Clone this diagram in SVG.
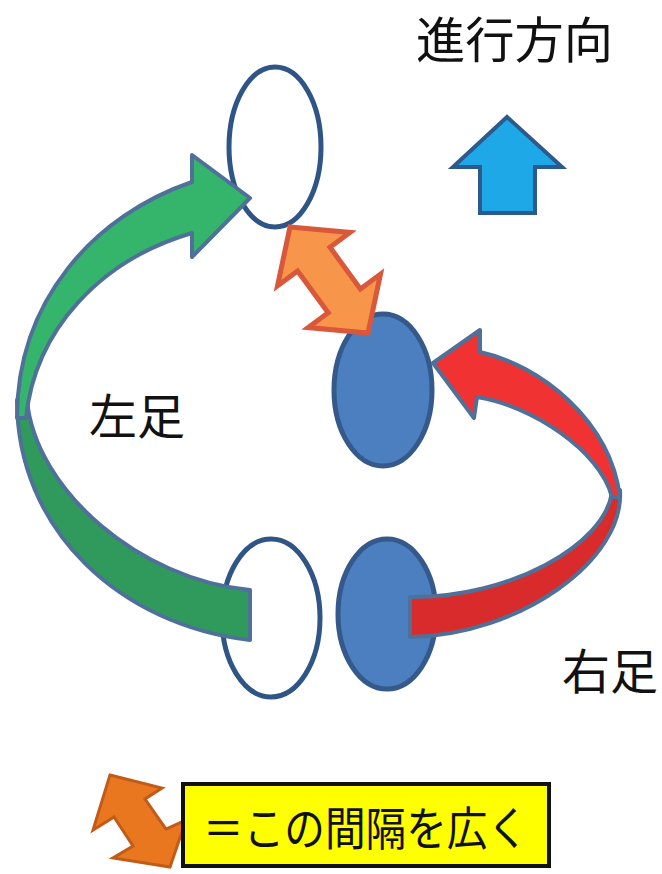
<svg xmlns="http://www.w3.org/2000/svg" width="662" height="874" viewBox="0 0 662 874">
  <style>
    .txt { font-family: "Noto Sans CJK JP", "Noto Sans CJK SC", sans-serif; fill: #111; }
    .foot-empty { fill: #ffffff; stroke: #2f5486; stroke-width: 5; }
    .foot-full { fill: #4b7fbf; stroke: #34598a; stroke-width: 5; }
    .band { stroke: #4f7199; stroke-width: 4; stroke-linejoin: round; }
    .gap { fill: #f7954a; stroke: #d9573a; stroke-width: 5; stroke-linejoin: miter; }
  </style>
  <rect width="662" height="874" fill="#ffffff"/>

  <g id="label-direction">
    <text class="txt" x="416" y="58" font-size="49" textLength="197" lengthAdjust="spacingAndGlyphs">進行方向</text>
  </g>
  <g id="direction-arrow">
    <polygon points="507,117 562,167 535,167 535,213 480,213 480,167 453,167" fill="#1fa8e8" stroke="#2d5a8c" stroke-width="4" stroke-linejoin="miter"/>
  </g>

  <g id="left-foot-front">
    <ellipse class="foot-empty" cx="275" cy="147" rx="46" ry="80"/>
  </g>
  <g id="right-foot-front">
    <ellipse class="foot-full" cx="383" cy="390" rx="49" ry="76"/>
  </g>
  <g id="left-foot-back">
    <ellipse class="foot-empty" cx="271" cy="618" rx="49" ry="79"/>
  </g>
  <g id="right-foot-back">
    <ellipse class="foot-full" cx="387" cy="614" rx="49" ry="75"/>
  </g>

  <g id="label-left">
    <text class="txt" x="89" y="434" font-size="48">左足</text>
  </g>
  <g id="label-right">
    <text class="txt" x="562" y="689" font-size="48">右足</text>
  </g>

  <g id="connectors">
    <g id="left-step-arrow">
      <path class="band" fill="#2f9a5b" d="M17,400 C17,530 120,625 250,640 L250,590 C140,580 35,490 27,400 Z"/>
      <path class="band" fill="#35b56b" d="M17,418 C17,300 95,215 192,182 L192,155 L250,198 L192,257 L192,233 C100,260 35,330 26,418 Z"/>
    </g>
    <g id="right-step-arrow">
      <path class="band" fill="#d92b2b" d="M620,490 C625,560 520,635 410,637 L410,597 C510,598 605,545 612,492 Z"/>
      <path class="band" fill="#f03232" d="M620,497 C610,420 540,365 480,352 L480,330 L433,363 L474,418 L477,397 C530,405 600,450 612,497 Z"/>
    </g>
    <g id="gap-arrow">
      <polygon class="gap" points="290,227 350,232.5 330,247.3 360.4,288.9 380.5,274.1 368,333 308.1,327.5 328.2,312.7 297.6,271.1 277.5,285.9"/>
    </g>
  </g>

  <g id="legend">
    <polygon points="110,775 162,788 145,799 166,829 186,820 170,867 113,858 133,846 114,817 93,830" fill="#e8771f" stroke="#c25a18" stroke-width="3" stroke-linejoin="miter"/>
    <rect x="183" y="784" width="366" height="82" fill="#ffff00" stroke="#111" stroke-width="4"/>
    <text class="txt" x="203" y="845" font-size="46" textLength="325" lengthAdjust="spacingAndGlyphs">＝この間隔を広く</text>
  </g>
</svg>
